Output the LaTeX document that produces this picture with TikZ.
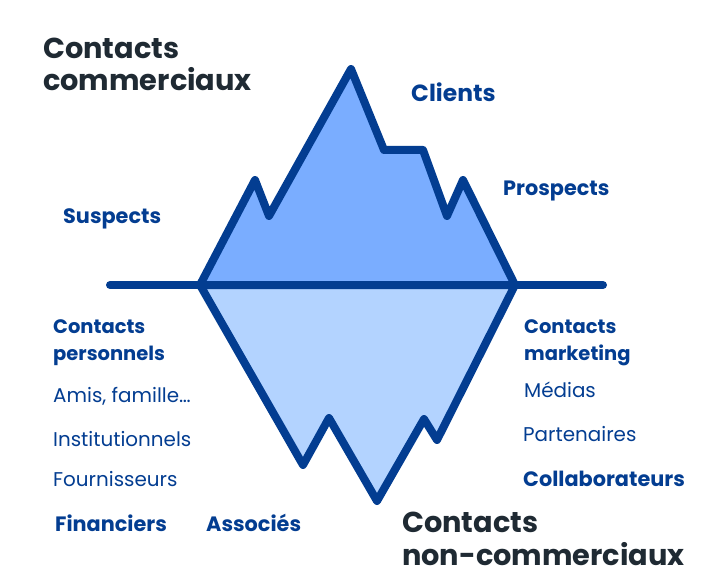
\documentclass[tikz,border=0pt]{standalone}
\usepackage{fontspec}
\setmainfont{Poppins}
\definecolor{lineblue}{HTML}{033D91}
\definecolor{upfill}{HTML}{7AADFF}
\definecolor{lowfill}{HTML}{B3D3FF}
\definecolor{titlegray}{HTML}{1F2A33}
\begin{document}
\begin{tikzpicture}[x=1pt,y=-1pt,
  berg/.style={draw=lineblue,line width=8pt,line join=round,line cap=round},
  title/.style={anchor=base west,inner sep=0pt,text=titlegray,font=\fontsize{28.8}{32}\selectfont\bfseries,align=left},
  lbl/.style={anchor=base west,inner sep=0pt,text=lineblue,font=\fontsize{20.8}{22}\selectfont\bfseries},
  big/.style={anchor=base west,inner sep=0pt,text=lineblue,font=\fontsize{23.4}{24}\selectfont\bfseries},
  item/.style={anchor=base west,inner sep=0pt,text=lineblue,font=\fontsize{19.9}{22}\selectfont},
  head/.style={anchor=base west,inner sep=0pt,text=lineblue,font=\fontsize{19.5}{22}\selectfont\bfseries}]
\useasboundingbox (0,0) rectangle (720,580);
% upper part
\filldraw[berg,fill=upfill] (200,285) -- (255,180) -- (269,216) -- (351,69) -- (384,150) -- (423,150) -- (447,216) -- (463,180) -- (515,285) -- cycle;
% lower part
\filldraw[berg,fill=lowfill] (200,285) -- (303,465) -- (329,418) -- (377,501) -- (424,419) -- (437,440) -- (515,285) -- cycle;
% water line
\coordinate (wl) at (110,285);
\coordinate (wr) at (603,285);
\draw[berg] (wl) -- (wr);
% titles
\node[title] (t1) at (43,59) {Contacts};
\node[title] (t2) at (43,91) {commerciaux};
\node[title] (t3) at (402,532) {Contacts};
\node[title] (t4) at (402,565) {non-commerciaux};
% upper labels
\node[big] (clients) at (411,102) {Clients};
\node[lbl] (prospects) at (503,196) {Prospects};
\node[lbl] (suspects) at (63,224) {Suspects};
% left lower
\node[head] (cp1) at (53,333) {Contacts};
\node[head] (cp2) at (53,360) {personnels};
\node[item] (amis) at (53,402) {Amis, famille…};
\node[item] (inst) at (53,446) {Institutionnels};
\node[item] (four) at (53,486) {Fournisseurs};
\node[lbl] (fin) at (55,531) {Financiers};
\node[lbl] (ass) at (206,531) {Associés};
% right lower
\node[head] (cm1) at (524,333) {Contacts};
\node[head] (cm2) at (524,360) {marketing};
\node[item] (med) at (524,397) {Médias};
\node[item] (part) at (523,441) {Partenaires};
\node[lbl] (coll) at (523,486) {Collaborateurs};
\end{tikzpicture}
\end{document}
